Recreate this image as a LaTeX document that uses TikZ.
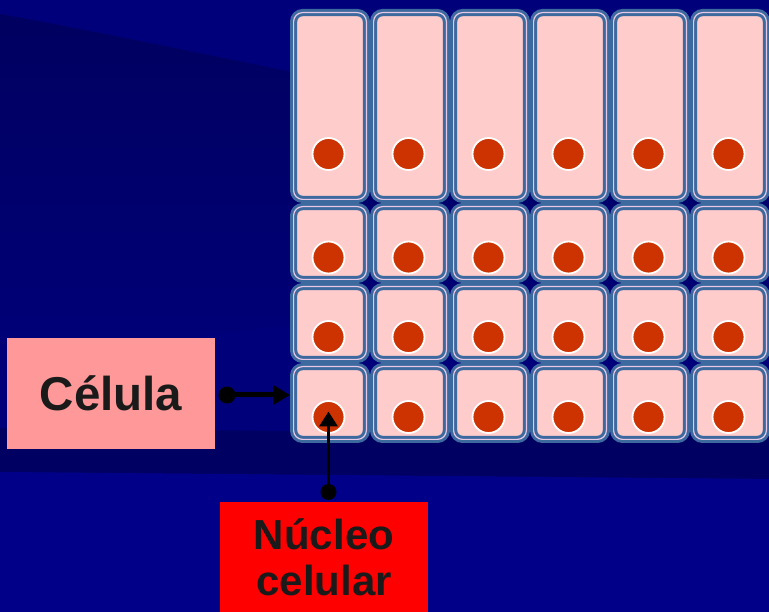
\documentclass[tikz,border=0pt]{standalone}
\usepackage{fontspec}
\setmainfont{Liberation Sans}
\usetikzlibrary{arrows.meta}

\definecolor{bgnavy}{HTML}{00007A}
\definecolor{bgdark}{HTML}{000060}
\definecolor{bgband}{HTML}{000062}
\definecolor{bglow}{HTML}{000089}
\definecolor{cellblue}{HTML}{3D6A9E}
\definecolor{cellpale}{HTML}{E6C8E6}
\definecolor{cellpink}{HTML}{FFCCCC}
\definecolor{nucred}{HTML}{CC3300}
\definecolor{labelpink}{HTML}{FF9999}
\definecolor{labelred}{HTML}{FF0000}
\definecolor{inkdark}{HTML}{1A1A1A}

\tikzset{
  cellbox/.style={rectangle, draw=cellblue, line width=3pt, double=cellpale,
    double distance=1.2pt, fill=cellpink, rounded corners=9pt, inner sep=0pt,
    outer sep=3.6pt},
  nucleus/.style={circle, fill=nucred, draw=white, line width=1.8pt,
    minimum size=32pt, inner sep=0pt},
  labelbox/.style={rectangle, inner sep=0pt, minimum width=208pt,
    text=inkdark, font=\bfseries},
  pindot/.style={circle, fill=black, inner sep=0pt},
}

\begin{document}
\begin{tikzpicture}[x=1pt,y=-1pt]
\useasboundingbox (0,0) rectangle (769,612);

% backdrop: navy field with a soft darker sweep and a dark band
\fill[bgnavy] (0,0) rectangle (769,612);
\shade[top color=bgdark, bottom color=bgnavy]
  (0,14) .. controls (200,50) and (450,110) .. (769,160)
  -- (769,330) .. controls (450,300) and (200,320) .. (0,380) -- cycle;
\fill[bgband] (0,428) -- (769,436) -- (769,479) -- (0,472) -- cycle;
\fill[bglow] (0,472) -- (769,479) -- (769,612) -- (0,612) -- cycle;

% cells: one tall row on top, three short rows below; nuclei near the bottom
\foreach \r/\t/\b/\ny in {1/9/203/154, 2/203/283/257.5, 3/283/363/337, 4/363/443/417}{
  \foreach \c in {1,...,6}{
    \pgfmathsetmacro{\xl}{290+80*(\c-1)}
    \pgfmathsetmacro{\cw}{80-7.2}
    \pgfmathsetmacro{\ch}{\b-\t-7.2}
    \node[cellbox, minimum width=\cw pt, minimum height=\ch pt]
      (cell-\r-\c) at ({\xl+40},{(\t+\b)/2}) {};
    \node[nucleus] (nuc-\r-\c) at ({\xl+38.5},\ny) {};
  }
}

% labels
\node[labelbox, fill=labelpink, minimum height=111pt, text height=35pt,
  text depth=0pt, font=\fontsize{47.5}{56}\bfseries\selectfont]
  (celula) at (111,393.5) {Célula};
\node[labelbox, fill=labelred, minimum height=110pt, align=center,
  font=\fontsize{42}{46}\bfseries\selectfont]
  (nucleo) at (324,557) {Núcleo\\celular};

% pointers
\node[pindot, minimum size=17pt] (dotcel) at (227,395) {};
\node[pindot, minimum size=16pt] (dotnuc) at (328.5,492) {};
\draw[line width=5pt, -{Triangle[length=17pt,width=19pt]}]
  (dotcel.center) -- (dotcel -| cell-4-1.west);
\draw[line width=3.5pt, -{Triangle[length=15pt,width=18pt]}]
  (dotnuc.center) -- ([yshift=5.5pt]nuc-4-1.center);
\end{tikzpicture}
\end{document}
